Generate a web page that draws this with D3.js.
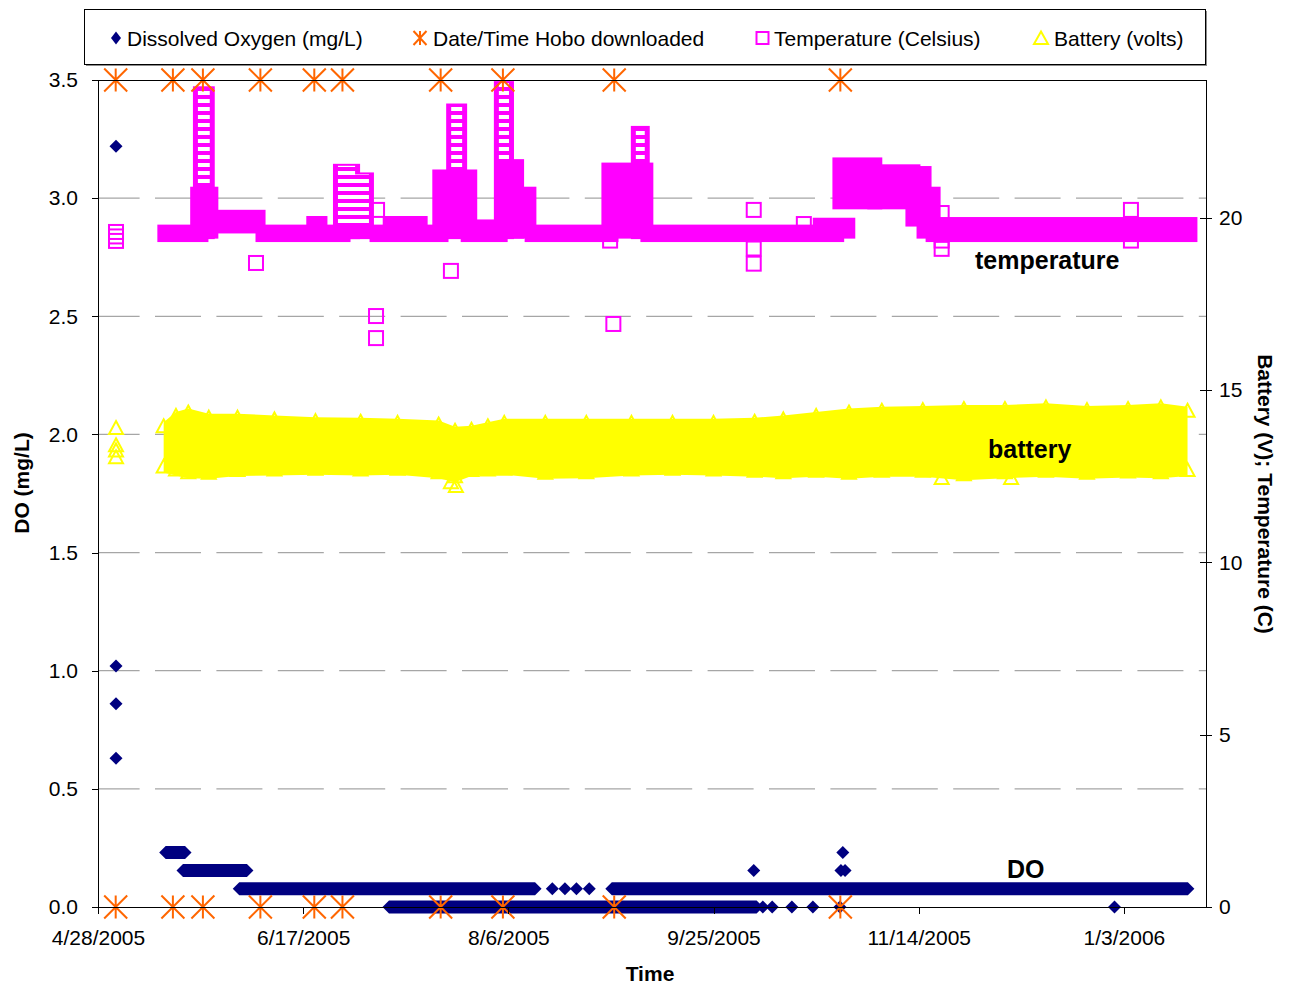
<!DOCTYPE html>
<meta charset="utf-8">
<style>
html,body {
  margin:0;
  padding:0;
  background:#fff;
  overflow:hidden;
}
svg { display:block; font-family:"Liberation Sans", Arial, sans-serif; }
.tick text { font-size:21px; fill:#000; }
.axis path, .axis line { stroke:#000; shape-rendering:crispEdges; }
.grid { stroke:#a6a6a6; stroke-width:1.3; stroke-dasharray:46,15.4; }
.title { font-size:21px; font-weight:bold; }
.note { font-size:25px; font-weight:bold; }
.leg { font-size:21px; }
</style>
<body>
<svg width="1289" height="988"></svg>
</body>
<script src="https://cdn.jsdelivr.net/npm/d3@7"></script>
<script>

// axes
var xTickLabels = ["4/28/2005","6/17/2005","8/6/2005","9/25/2005","11/14/2005","1/3/2006"];
var xDomain = ["4/28/2005","1/23/2006"];
var doTicks = [0,0.5,1,1.5,2,2.5,3,3.5];
var rightTicks = [0,5,10,15,20];
var rightMax = 24;

// Hobo download times, marked at bottom and top of DO axis
var hoboTimes = ["2005-05-02 07:30","2005-05-16 06:00","2005-05-23 13:30","2005-06-06 13:40","2005-06-19 17:00",
  "2005-06-26 13:40","2005-07-20 12:00","2005-08-04 16:00","2005-08-31 19:00","2005-10-25 21:30"];
var hoboLevels = [0, 3.5];

// DO readings standing on their own
var doPoints = [
  ["2005-05-02 09:20",3.22],["2005-05-02 09:20",1.02],["2005-05-02 09:20",0.86],["2005-05-02 09:20",0.63],
  ["2005-08-16 17:00",0.077],["2005-08-19 19:00",0.077],["2005-08-22 14:00",0.077],["2005-08-25 17:00",0.077],
  ["2005-10-04 19:00",0.154],["2005-10-26 01:00",0.154],["2005-10-27 01:00",0.154],["2005-10-26 12:00",0.231],
  ["2005-10-07 00:00",0],["2005-10-09 07:00",0],["2005-10-14 02:00",0],["2005-10-19 05:00",0],
  ["2005-10-25 19:00",0],["2005-12-31 17:00",0]
];
// DO runs: logged readings from start to end all at one value
var doRuns = [
  ["2005-05-14 12:00","2005-05-19 05:00",0.231],
  ["2005-05-18 17:00","2005-06-03 07:00",0.154],
  ["2005-06-01 10:00","2005-08-12 12:00",0.077],
  ["2005-08-31 05:00","2006-01-18 14:00",0.077],
  ["2005-07-07 22:00","2005-10-05 12:00",0]
];

// temperature: dense runs [start, end, low, high]
var tempRuns = [
  ["2005-05-14 07:00","2005-05-23 02:00",19.5,19.6],
  ["2005-05-22 07:00","2005-05-25 12:00",19.6,20.7],
  ["2005-05-25 19:00","2005-06-06 00:00",19.75,20.03],
  ["2005-06-07 05:00","2005-06-26 17:00",19.5,19.6],
  ["2005-06-19 14:00","2005-06-21 02:00",19.6,19.85],
  ["2005-07-05 00:00","2005-07-20 14:00",19.5,19.6],
  ["2005-07-08 05:00","2005-07-15 12:00",19.6,19.85],
  ["2005-07-20 07:00","2005-07-27 14:00",19.6,21.2],
  ["2005-07-27 05:00","2005-08-04 00:00",19.5,19.75],
  ["2005-08-04 10:00","2005-08-08 00:00",19.6,21.5],
  ["2005-08-08 00:00","2005-08-11 00:00",19.6,20.7],
  ["2005-08-11 19:00","2005-08-31 00:00",19.5,19.6],
  ["2005-08-30 12:00","2005-09-08 12:00",19.6,21.4],
  ["2005-09-09 00:00","2005-10-25 00:00",19.5,19.6],
  ["2005-10-21 00:00","2005-10-27 17:00",19.6,19.8],
  ["2005-10-25 19:00","2005-11-03 07:00",20.45,21.55],
  ["2005-11-03 07:00","2005-11-12 14:00",20.45,21.35],
  ["2005-11-12 14:00","2005-11-15 07:00",19.95,21.3],
  ["2005-11-15 07:00","2005-11-17 12:00",19.6,20.7],
  ["2005-11-17 12:00","2006-01-19 02:00",19.5,19.82]
];
// temperature spikes (stacked readings)
var tempSpikes = [
  ["2005-05-23 02:00","2005-05-24 12:00",19.6,23.6],
  ["2005-06-26 05:00","2005-06-28 22:00",19.6,21.35],
  ["2005-06-28 22:00","2005-07-02 07:00",19.6,21.1],
  ["2005-07-23 19:00","2005-07-25 00:00",19.6,23.1],
  ["2005-08-04 10:00","2005-08-05 10:00",19.6,23.75],
  ["2005-09-06 19:00","2005-09-07 12:00",19.6,22.45]
];
var tempPoints = [
  ["2005-05-02 09:20",19.59],["2005-05-02 09:20",19.46],["2005-05-02 09:20",19.33],
  ["2005-06-05 12:00",18.69],
  ["2005-07-05 00:00",20.23],["2005-07-04 18:00",17.15],["2005-07-04 18:00",16.51],
  ["2005-07-23 00:00",18.46],
  ["2005-08-30 19:00",19.34],["2005-08-31 14:00",16.92],
  ["2005-10-04 19:00",20.23],["2005-10-04 19:00",19.11],["2005-10-04 19:00",18.67],
  ["2005-10-17 00:00",19.82],
  ["2005-11-19 14:00",20.14],["2005-11-19 14:00",19.34],["2005-11-19 14:00",19.1],
  ["2006-01-04 17:00",20.23],["2006-01-04 17:00",19.34]
];

// battery envelope (volts)
var batteryDates = ["2005-05-14 00:00","2005-05-17 00:00","2005-05-20 00:00","2005-05-25 00:00","2005-06-01 00:00",
  "2005-06-10 00:00","2005-06-20 00:00","2005-07-01 00:00","2005-07-10 00:00","2005-07-20 00:00","2005-07-24 00:00",
  "2005-07-28 00:00","2005-08-01 00:00","2005-08-05 00:00","2005-08-15 00:00","2005-08-25 00:00","2005-09-05 00:00",
  "2005-09-15 00:00","2005-09-25 00:00","2005-10-05 00:00","2005-10-12 00:00","2005-10-20 00:00","2005-10-28 00:00",
  "2005-11-05 00:00","2005-11-15 00:00","2005-11-25 00:00","2005-12-05 00:00","2005-12-15 00:00","2005-12-25 00:00",
  "2006-01-04 00:00","2006-01-12 00:00","2006-01-18 12:00"];
var batteryMax = [13.95,14.25,14.35,14.2,14.2,14.15,14.1,14.08,14.05,14.0,13.82,13.85,13.95,14.05,14.05,14.05,14.05,
  14.05,14.05,14.08,14.15,14.25,14.35,14.4,14.42,14.45,14.45,14.5,14.42,14.45,14.5,14.4];
var batteryMin = [12.78,12.7,12.62,12.6,12.68,12.7,12.72,12.7,12.72,12.62,12.5,12.68,12.7,12.72,12.6,12.62,12.7,
  12.72,12.7,12.66,12.62,12.66,12.6,12.66,12.66,12.56,12.62,12.66,12.6,12.64,12.62,12.68];
var batteryPoints = [
  ["2005-05-02 09:20",13.9],["2005-05-02 09:20",13.4],["2005-05-02 09:20",13.25],["2005-05-02 09:20",13.05],
  ["2005-07-23 00:00",12.33],["2005-07-24 05:00",12.22],["2005-11-19 14:00",12.45],["2005-12-06 12:00",12.45]
];

var parseT = d3.timeParse("%Y-%m-%d %H:%M");
var parseTick = d3.timeParse("%m/%d/%Y");
var fmtTick = d3.timeFormat("%-m/%-d/%Y");

var svg = d3.select("svg");
var L = 98, R = 1206, T = 80, B = 907;

var x = d3.scaleTime().domain(xDomain.map(parseTick)).range([L, R]);
var yL = d3.scaleLinear().domain([0, 3.5]).range([B, T]);
var yR = d3.scaleLinear().domain([0, rightMax]).range([B, T]);

var MAG = "#ff00ff", YEL = "#ffff00", NAVY = "#000080", ORA = "#ff6600";

// ladder pattern for stacked squares
var defs = svg.append("defs");
defs.append("pattern").attr("id","ladder").attr("patternUnits","userSpaceOnUse")
  .attr("width", 40).attr("height", 8).attr("y", 1)
  .append("rect").attr("width", 40).attr("y", 2).attr("height", 4).attr("fill", "#fff");

// gridlines
svg.append("g").selectAll("line").data(doTicks.filter(function(d){ return d > 0 && d < 3.5; }))
  .enter().append("line").attr("class","grid")
  .attr("x1", L).attr("x2", R).attr("stroke-dashoffset", 4.4)
  .attr("y1", function(d){ return yL(d); }).attr("y2", function(d){ return yL(d); });

// battery
var bat = batteryDates.map(function(d,i){ return {t: parseT(d), hi: batteryMax[i], lo: batteryMin[i]}; });
var tri = "M0,-7L7,6L-7,6Z";
svg.append("path").datum(bat).attr("fill", YEL)
  .attr("d", d3.area().x(function(d){ return x(d.t); })
    .y0(function(d){ return yR(d.lo) + 6; }).y1(function(d){ return yR(d.hi) - 4; }));
var batMarks = [];
bat.forEach(function(d){ batMarks.push([d.t, d.hi]); batMarks.push([d.t, d.lo]); });
batteryPoints.forEach(function(d){ batMarks.push([parseT(d[0]), d[1]]); });
svg.append("g").selectAll("path").data(batMarks).enter().append("path")
  .attr("d", tri).attr("fill","none").attr("stroke", YEL).attr("stroke-width", 2)
  .attr("transform", function(d){ return "translate(" + x(d[0]) + "," + yR(d[1]) + ")"; });

// temperature
var tg = svg.append("g");
tg.selectAll("rect.spike").data(tempSpikes).enter().append("rect").attr("class","spike")
  .attr("x", function(d){ return x(parseT(d[0])) - 8; })
  .attr("width", function(d){ return x(parseT(d[1])) - x(parseT(d[0])) + 16; })
  .attr("y", function(d){ return yR(d[3]) - 7.5; })
  .attr("height", function(d){ return yR(d[2]) - yR(d[3]) + 15; })
  .attr("fill", MAG);
tg.selectAll("rect.slot").data(tempSpikes).enter().append("rect").attr("class","slot")
  .attr("x", function(d){ return x(parseT(d[0])) - 3; })
  .attr("width", function(d){ return x(parseT(d[1])) - x(parseT(d[0])) + 6; })
  .attr("y", function(d){ return yR(d[3]) - 5.5; })
  .attr("height", function(d){ return yR(d[2]) - yR(d[3]); })
  .attr("fill", "url(#ladder)");
tg.selectAll("rect.run").data(tempRuns).enter().append("rect").attr("class","run")
  .attr("x", function(d){ return x(parseT(d[0])) - 7.5; })
  .attr("width", function(d){ return x(parseT(d[1])) - x(parseT(d[0])) + 15; })
  .attr("y", function(d){ return yR(d[3]) - 7; })
  .attr("height", function(d){ return yR(d[2]) - yR(d[3]) + 14; })
  .attr("fill", MAG);
tg.selectAll("rect.pt").data(tempPoints).enter().append("rect").attr("class","pt")
  .attr("x", function(d){ return x(parseT(d[0])) - 7; })
  .attr("y", function(d){ return yR(d[1]) - 7; })
  .attr("width", 14).attr("height", 14)
  .attr("fill","none").attr("stroke", MAG).attr("stroke-width", 2);

// DO
var dh = 6.5;
svg.append("g").selectAll("path").data(doRuns).enter().append("path")
  .attr("fill", NAVY)
  .attr("d", function(d){
    var a = x(parseT(d[0])), b = x(parseT(d[1])), y = yL(d[2]);
    return "M" + (a - dh) + "," + y + "L" + a + "," + (y - dh) + "L" + b + "," + (y - dh) +
      "L" + (b + dh) + "," + y + "L" + b + "," + (y + dh) + "L" + a + "," + (y + dh) + "Z";
  });
var diamond = "M0,-6.5L6.5,0L0,6.5L-6.5,0Z";
svg.append("g").selectAll("path").data(doPoints).enter().append("path")
  .attr("d", diamond).attr("fill", NAVY)
  .attr("transform", function(d){ return "translate(" + x(parseT(d[0])) + "," + yL(d[1]) + ")"; });

// Hobo downloads
var star = "M-11.5,-11.5L11.5,11.5M11.5,-11.5L-11.5,11.5M0,-11.5V11.5";
var hobo = [];
hoboLevels.forEach(function(v){ hoboTimes.forEach(function(t){ hobo.push([parseT(t), v]); }); });
svg.append("g").selectAll("path").data(hobo).enter().append("path")
  .attr("d", star).attr("fill","none").attr("stroke", ORA).attr("stroke-width", 2)
  .attr("transform", function(d){ return "translate(" + x(d[0]) + "," + yL(d[1]) + ")"; });

// frame
svg.append("rect").attr("x", L).attr("y", T).attr("width", R - L).attr("height", B - T)
  .attr("fill","none").attr("stroke","#000").attr("shape-rendering","crispEdges");

// axes
svg.append("g").attr("class","axis").attr("transform","translate(" + L + ",0)")
  .call(d3.axisLeft(yL).tickValues(doTicks).tickFormat(d3.format(".1f")).tickSize(6).tickSizeOuter(0).tickPadding(14));
var ra = svg.append("g").attr("class","axis").attr("transform","translate(" + R + ",0)")
  .call(d3.axisRight(yR).tickValues(rightTicks).tickSize(6).tickSizeOuter(0).tickPadding(7));
ra.selectAll(".tick line").attr("x1", -6);
svg.append("g").attr("class","axis").attr("transform","translate(0," + B + ")")
  .call(d3.axisBottom(x).tickValues(xTickLabels.map(parseTick)).tickFormat(fmtTick)
    .tickSize(7).tickSizeOuter(0).tickPadding(16));
svg.selectAll(".axis .domain").attr("stroke","#000");

// titles
svg.append("text").attr("class","title").attr("x", 650).attr("y", 981).attr("text-anchor","middle").text("Time");
svg.append("text").attr("class","title").attr("text-anchor","middle")
  .attr("transform","translate(29,483) rotate(-90)").text("DO (mg/L)");
svg.append("text").attr("class","title").attr("text-anchor","middle")
  .attr("transform","translate(1258,494) rotate(90)").text("Battery (V); Temperature (C)");

// notes
svg.append("text").attr("class","note").attr("x", 975).attr("y", 269).text("temperature");
svg.append("text").attr("class","note").attr("x", 988).attr("y", 458).text("battery");
svg.append("text").attr("class","note").attr("x", 1007).attr("y", 878).text("DO");

// legend
svg.append("rect").attr("x", 86).attr("y", 11).attr("width", 1121).attr("height", 55).attr("fill","#8c8c8c");
svg.append("rect").attr("x", 84).attr("y", 9).attr("width", 1121).attr("height", 55)
  .attr("fill","#fff").attr("stroke","#000").attr("shape-rendering","crispEdges");
var legendItems = [
  {label:"Dissolved Oxygen (mg/L)", mx:116, tx:127, d:"M0,-6.5L5,0L0,6.5L-5,0Z", fill:NAVY, stroke:"none"},
  {label:"Date/Time Hobo downloaded", mx:420, tx:433, d:"M-6.5,-7L6.5,7M6.5,-7L-6.5,7M0,-7V7", fill:"none", stroke:ORA},
  {label:"Temperature (Celsius)", mx:762.5, tx:774, d:"M-6,-6H6V6H-6Z", fill:"none", stroke:MAG},
  {label:"Battery (volts)", mx:1041, tx:1054, d:"M0,-6.5L7,6L-7,6Z", fill:"none", stroke:YEL}
];
var lg = svg.append("g").selectAll("g").data(legendItems).enter().append("g");
lg.append("path").attr("d", function(d){ return d.d; })
  .attr("transform", function(d){ return "translate(" + d.mx + ",38)"; })
  .attr("fill", function(d){ return d.fill; }).attr("stroke", function(d){ return d.stroke; }).attr("stroke-width", 2);
lg.append("text").attr("class","leg").attr("x", function(d){ return d.tx; }).attr("y", 45.5)
  .text(function(d){ return d.label; });

</script>
